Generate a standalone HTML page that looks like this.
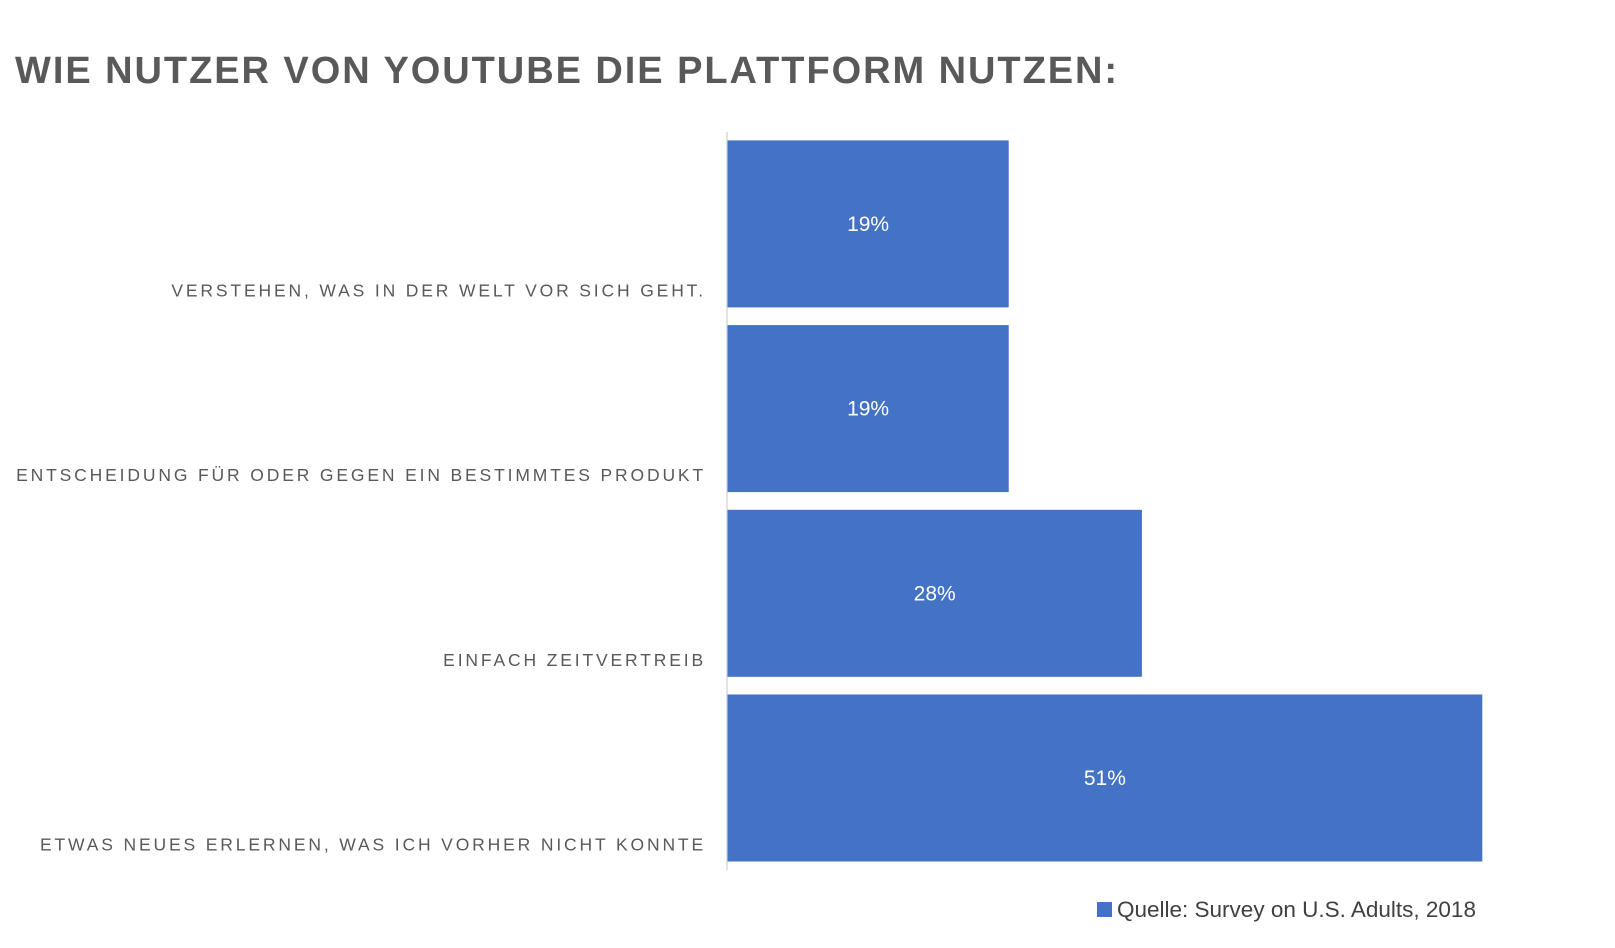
<!DOCTYPE html>
<html><head><meta charset="utf-8"><style>
body{margin:0;background:#fff;width:1615px;height:943px;overflow:hidden;font-family:"Liberation Sans",sans-serif}
</style></head><body>
<svg width="1615" height="943">
<text x="15" y="83" font-size="38" font-weight="bold" fill="#595959" letter-spacing="1.95">WIE NUTZER VON YOUTUBE DIE PLATTFORM NUTZEN:</text>
<line x1="727" y1="132" x2="727" y2="870" stroke="#d9d9d9" stroke-width="1.5"/>
<g id="bars"></g>
<rect x="1097" y="902" width="15" height="15" fill="#4472c4"/>
<text x="1117" y="917" font-size="22.5" fill="#404040">Quelle: Survey on U.S. Adults, 2018</text>
</svg>
<script>
const categories=["VERSTEHEN, WAS IN DER WELT VOR SICH GEHT.","ENTSCHEIDUNG FÜR ODER GEGEN EIN BESTIMMTES PRODUKT","EINFACH ZEITVERTREIB","ETWAS NEUES ERLERNEN, WAS ICH VORHER NICHT KONNTE"];
const values=[19,19,28,51];
const valueLabels=["19%","19%","28%","51%"];
const chartX0=727.5, pxPer=14.8, chartTop=140.4, band=184.7, barH=167;
const xs=v=>chartX0+v*pxPer;
const ys=i=>chartTop+i*band;
const g=document.getElementById('bars');
const ns="http://www.w3.org/2000/svg";
categories.forEach((c,i)=>{
  const r=document.createElementNS(ns,'rect');
  r.setAttribute('x',chartX0);r.setAttribute('y',ys(i));
  r.setAttribute('width',xs(values[i])-chartX0);r.setAttribute('height',barH);
  r.setAttribute('fill','#4472c4');
  
  
  g.appendChild(r);
  const t=document.createElementNS(ns,'text');
  t.setAttribute('x',(chartX0+xs(values[i]))/2);t.setAttribute('y',ys(i)+barH/2+7);
  t.setAttribute('text-anchor','middle');t.setAttribute('fill','#fff');t.setAttribute('font-size','21');
  t.textContent=valueLabels[i];
  
  
  g.appendChild(t);
  const l=document.createElementNS(ns,'text');
  l.setAttribute('x',706);l.setAttribute('y',ys(i)+barH-11);
  l.setAttribute('text-anchor','end');l.setAttribute('fill','#595959');l.setAttribute('font-size','17.5');
  l.setAttribute('letter-spacing','2.85');
  l.textContent=c;
  
  
  g.appendChild(l);
});
</script>
</body></html>
